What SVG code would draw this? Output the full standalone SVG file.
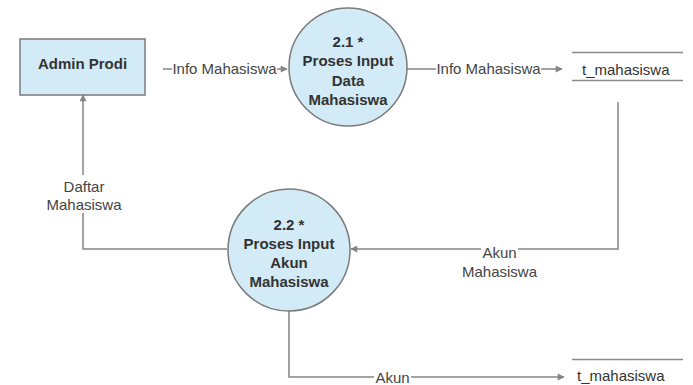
<svg xmlns="http://www.w3.org/2000/svg" width="693" height="385" viewBox="0 0 693 385">
<style>
.node{fill:#d3ebf6;stroke:#7a7a7a;stroke-width:1.5}
.title{font-family:"Liberation Sans",Arial,sans-serif;font-size:15px;font-weight:bold;fill:#333;text-anchor:middle}
.lbl{font-family:"Liberation Sans",Arial,sans-serif;font-size:15px;fill:#444;text-anchor:middle}
.store{font-family:"Liberation Sans",Arial,sans-serif;font-size:15px;fill:#333}
.edge{fill:none;stroke:#858585;stroke-width:1.5}
.sline{stroke:#8a8a8a;stroke-width:1.5}
.bg{fill:#fff}
</style>
<defs>
<marker id="arr" viewBox="0 0 10 10" refX="9" refY="5" markerWidth="8" markerHeight="7" markerUnits="userSpaceOnUse" orient="auto">
<path d="M0,0 L10,5 L0,10 z" fill="#858585"/>
</marker>
</defs>
<rect width="693" height="385" fill="#fff"/>
<g id="connectors">
<path class="edge" d="M163,69 H287" marker-end="url(#arr)"/>
<rect class="bg" x="172" y="60" width="105" height="18"/>
<text class="lbl" x="224.5" y="74">Info Mahasiswa</text>
<path class="edge" d="M407,69 H562" marker-end="url(#arr)"/>
<rect class="bg" x="436" y="60" width="105" height="18"/>
<text class="lbl" x="488.5" y="74">Info Mahasiswa</text>
<path class="edge" d="M618,102 V249 H351" marker-end="url(#arr)"/>
<rect class="bg" x="481" y="244" width="37" height="15"/>
<text class="lbl" x="499.5" y="258">Akun</text>
<text class="lbl" x="499.5" y="277">Mahasiswa</text>
<path class="edge" d="M227,249 H83 V95" marker-end="url(#arr)"/>
<rect class="bg" x="44" y="175" width="80" height="38"/>
<text class="lbl" x="84" y="192">Daftar</text>
<text class="lbl" x="84" y="210">Mahasiswa</text>
<path class="edge" d="M289,311 V377 H564" marker-end="url(#arr)"/>
<rect class="bg" x="374" y="369" width="37" height="16"/>
<text class="lbl" x="392.5" y="383">Akun</text>
</g>
<g id="admin-prodi">
<rect class="node" x="20" y="39" width="125" height="56"/>
<text class="title" x="82.5" y="69">Admin Prodi</text>
</g>
<g id="proses-2-1">
<circle class="node" cx="348" cy="67" r="59"/>
<text class="title" x="348" y="47">2.1 *</text>
<text class="title" x="348" y="66">Proses Input</text>
<text class="title" x="348" y="86">Data</text>
<text class="title" x="348" y="105">Mahasiswa</text>
</g>
<g id="proses-2-2">
<circle class="node" cx="289" cy="250" r="61"/>
<text class="title" x="289" y="230">2.2 *</text>
<text class="title" x="289" y="249">Proses Input</text>
<text class="title" x="289" y="268">Akun</text>
<text class="title" x="289" y="287">Mahasiswa</text>
</g>
<g id="store-t-mahasiswa-1">
<line class="sline" x1="572" y1="52.5" x2="683" y2="52.5"/>
<line class="sline" x1="572" y1="80.5" x2="683" y2="80.5"/>
<text class="store" x="582" y="75">t_mahasiswa</text>
</g>
<g id="store-t-mahasiswa-2">
<line class="sline" x1="572" y1="359.5" x2="683" y2="359.5"/>
<text class="store" x="577" y="381">t_mahasiswa</text>
</g>
</svg>
